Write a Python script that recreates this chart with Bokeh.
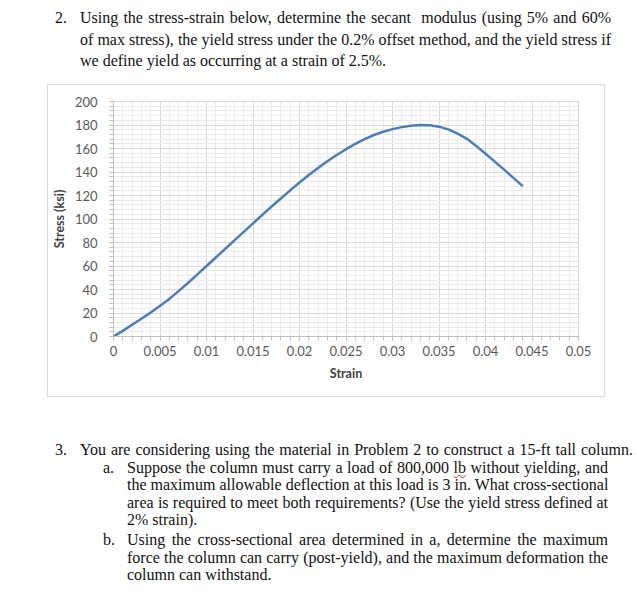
from bokeh.plotting import figure
from bokeh.models import Div, FixedTicker, Range1d
from bokeh.layouts import column
from bokeh.embed import file_html
from bokeh.resources import INLINE

# ---- data ----
strain = [0.000, 0.001, 0.002, 0.003, 0.004, 0.005, 0.006, 0.007, 0.008, 0.009,
          0.010, 0.011, 0.012, 0.013, 0.014, 0.015, 0.016, 0.017, 0.018, 0.019,
          0.020, 0.021, 0.022, 0.023, 0.024, 0.025, 0.026, 0.027, 0.028, 0.029,
          0.030, 0.031, 0.032, 0.033, 0.034, 0.035, 0.036, 0.037, 0.038, 0.039,
          0.040, 0.041, 0.042, 0.043, 0.044]
stress = [0.0, 4.8, 10.0, 15.1, 20.5, 26.1, 32.0, 38.6, 45.5, 52.7,
          60.0, 67.2, 74.5, 81.8, 89.0, 96.3, 103.5, 110.6, 117.5, 124.4,
          131.0, 137.4, 143.5, 149.2, 154.5, 159.4, 164.0, 168.0, 171.5, 174.3,
          176.5, 178.2, 179.3, 179.9, 179.8, 178.6, 176.3, 172.7, 168.2, 162.2,
          155.5, 148.8, 142.0, 135.0, 128.0]

x_ticks = [0, 0.005, 0.01, 0.015, 0.02, 0.025, 0.03, 0.035, 0.04, 0.045, 0.05]
x_tick_labels = ["0", "0.005", "0.01", "0.015", "0.02", "0.025", "0.03", "0.035", "0.04", "0.045", "0.05"]
y_ticks = [0, 20, 40, 60, 80, 100, 120, 140, 160, 180, 200]
x_minor = [i / 1000 for i in range(0, 51)]
y_minor = list(range(0, 201, 4))

x_title = "Strain"
y_title = "Stress (ksi)"

q2_lines = [
    "Using the stress-strain below, determine the secant&nbsp; modulus (using 5% and 60%",
    "of max stress), the yield stress under the 0.2% offset method, and the yield stress if",
    "we define yield as occurring at a strain of 2.5%.",
]
q3_line = "You are considering using the material in Problem 2 to construct a 15-ft tall column."
qa_lines = [
    "Suppose the column must carry a load of 800,000 <span style=\"text-decoration:underline wavy #d02020;text-decoration-thickness:1px\">lb</span> without yielding, and",
    "the maximum allowable deflection at this load is 3 in. What cross-sectional",
    "area is required to meet both requirements? (Use the yield stress defined at",
    "2% strain).",
]
qb_lines = [
    "Using the cross-sectional area determined in a, determine the maximum",
    "force the column can carry (post-yield), and the maximum deformation the",
    "column can withstand.",
]

FONT = "font-family:'Liberation Serif','Times New Roman',serif;color:#111;"


def just_line(txt, left, width, last=False, label=None, label_left=None):
    align = "left" if last else "justify"
    lab = ""
    if label is not None:
        lab = f'<span style="position:absolute;left:{label_left - left}px;top:0">{label}</span>'
    return (f'<div style="position:relative;margin-left:{left}px;width:{width}px;'
            f'text-align:justify;text-align-last:{align};white-space:nowrap;">{lab}{txt}</div>')


top_html = f'<div style="{FONT}font-size:16px;line-height:21.5px;padding-top:7px;">'
for i, t in enumerate(q2_lines):
    top_html += just_line(t, 80, 531, last=(i == len(q2_lines) - 1),
                          label="2." if i == 0 else None, label_left=55)
top_html += "</div>"

bot_html = f'<div style="{FONT}font-size:16px;line-height:17.5px;padding-top:44px;">'
bot_html += just_line(q3_line, 80, 553, last=False, label="3.", label_left=55)
for i, t in enumerate(qa_lines):
    bot_html += just_line(t, 127, 481, last=(i == len(qa_lines) - 1),
                          label="a." if i == 0 else None, label_left=103)
bot_html += '<div style="height:2.5px"></div>'
for i, t in enumerate(qb_lines):
    bot_html += just_line(t, 127, 481, last=(i == len(qb_lines) - 1),
                          label="b." if i == 0 else None, label_left=103)
bot_html += "</div>"

top_div = Div(text=top_html, width=637, height=84, margin=(0, 0, 0, 0))
bot_div = Div(text=bot_html, width=637, height=196, margin=(0, 0, 0, 0))

p = figure(width=558, height=313, output_backend="svg", toolbar_location=None,
           x_range=Range1d(0, 0.05), y_range=Range1d(0, 200),
           min_border_left=62, min_border_right=28, min_border_top=16, min_border_bottom=62,
           margin=(0, 32, 0, 47),
           styles={"border": "1px solid #d9d9d9"})
p.background_fill_color = "white"
p.border_fill_color = "white"
p.outline_line_color = "#d9d9d9"

p.line(strain, stress, line_color="#4A7EBB", line_width=2.5, line_join="round")

p.xaxis.ticker = FixedTicker(ticks=x_ticks, minor_ticks=x_minor)
p.yaxis.ticker = FixedTicker(ticks=y_ticks, minor_ticks=y_minor)
p.xaxis.major_label_overrides = {t: l for t, l in zip(x_ticks, x_tick_labels)}
p.yaxis.major_label_overrides = {t: str(t) for t in y_ticks}

for ax in (p.xaxis, p.yaxis):
    ax.axis_line_color = "#bfbfbf"
    ax.major_tick_line_color = "#bfbfbf"
    ax.minor_tick_line_color = "#bfbfbf"
    ax.major_tick_out = 4
    ax.major_tick_in = 0
    ax.minor_tick_out = 4
    ax.minor_tick_in = 0
    ax.major_label_text_font = "Lato"
    ax.major_label_text_font_size = "13px"
    ax.major_label_text_color = "#595959"
    ax.axis_label_text_font = "Lato"
    ax.axis_label_text_font_size = "12.5px"
    ax.axis_label_text_font_style = "bold"
    ax.axis_label_text_color = "#404040"

p.xaxis.axis_label = x_title
p.yaxis.axis_label = y_title
p.xaxis.major_label_standoff = 5
p.yaxis.major_label_standoff = 12
p.xaxis.axis_label_standoff = 7
p.yaxis.axis_label_standoff = 5

p.xgrid.grid_line_color = "#d9d9d9"
p.ygrid.grid_line_color = "#d9d9d9"
p.xgrid.minor_grid_line_color = "#ebebeb"
p.ygrid.minor_grid_line_color = "#ebebeb"

layout = column(top_div, p, bot_div, spacing=0, margin=(0, 0, 0, 0))

open("out.html", "w").write(file_html(layout, INLINE))
